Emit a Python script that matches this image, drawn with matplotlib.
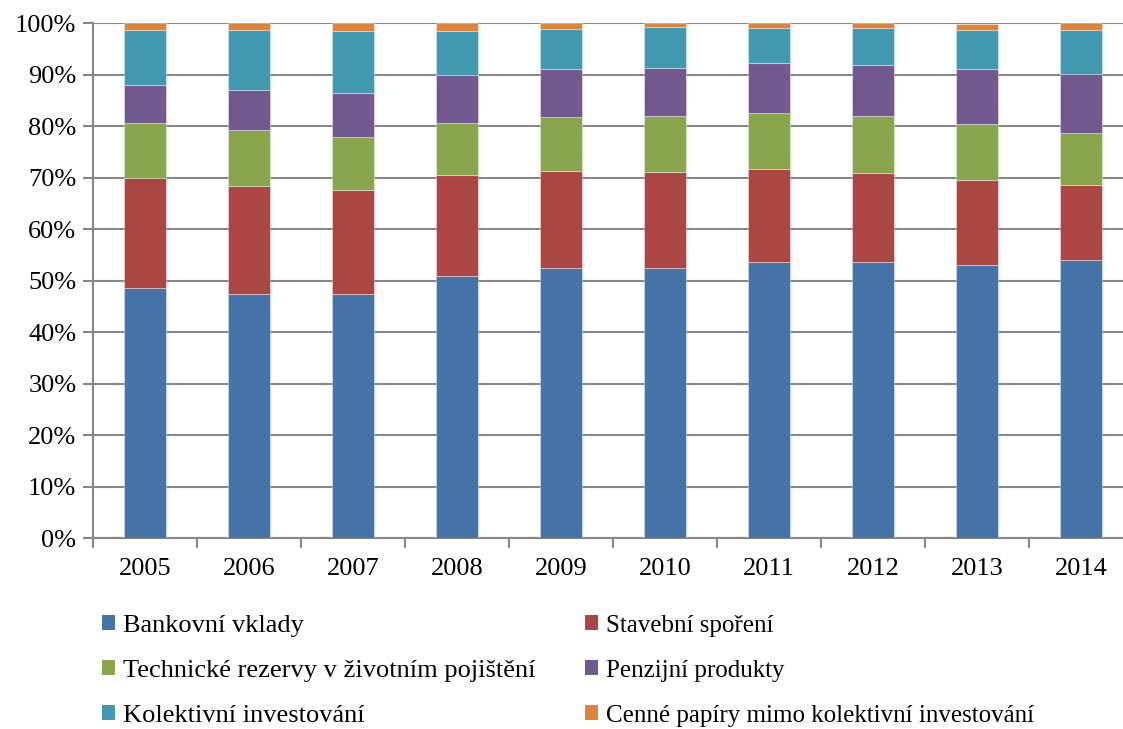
import matplotlib
matplotlib.use("Agg")
import matplotlib.pyplot as plt
from matplotlib.patches import Patch
from matplotlib.ticker import FuncFormatter
import numpy as np

years = ["2005", "2006", "2007", "2008", "2009", "2010", "2011", "2012", "2013", "2014"]

series_names = [
    "Bankovní vklady",
    "Stavební spoření",
    "Technické rezervy v životním pojištění",
    "Penzijní produkty",
    "Kolektivní investování",
    "Cenné papíry mimo kolektivní investování",
]

bankovni_vklady = [48.6, 47.5, 47.5, 51.0, 52.4, 52.5, 53.6, 53.6, 53.1, 54.0]
stavebni_sporeni = [21.4, 21.0, 20.2, 19.6, 19.0, 18.7, 18.2, 17.4, 16.5, 14.7]
technicke_rezervy = [10.7, 10.7, 10.3, 10.1, 10.4, 10.8, 10.7, 11.1, 10.8, 10.1]
penzijni_produkty = [7.3, 7.9, 8.5, 9.2, 9.3, 9.3, 9.7, 9.9, 10.8, 11.4]
kolektivni_investovani = [10.8, 11.6, 12.1, 8.7, 7.8, 7.9, 6.8, 7.0, 7.5, 8.5]
cenne_papiry = [1.2, 1.3, 1.4, 1.4, 1.1, 0.8, 1.0, 1.0, 1.2, 1.3]

colors = ["#4572A7", "#AA4643", "#89A54E", "#71588F", "#4198AF", "#DB843D"]

plt.rcParams["font.family"] = ["Liberation Serif", "DejaVu Serif"]

fig = plt.figure(figsize=(11.23, 7.29), dpi=100)
ax = fig.add_axes([0.0828, 0.2616, 0.9261, 0.7064])

data = [bankovni_vklady, stavebni_sporeni, technicke_rezervy,
        penzijni_produkty, kolektivni_investovani, cenne_papiry]
x = np.arange(len(years))
bottom = np.zeros(len(years))
for vals, col in zip(data, colors):
    vals = np.array(vals, dtype=float)
    ax.bar(x, vals, width=0.395, bottom=bottom, color=col,
           edgecolor=(1, 1, 1, 0.35), linewidth=0.8, zorder=3)
    bottom += vals

grid_col = "#878787"
ax.set_xlim(-0.5, len(years) - 0.5)
ax.set_ylim(0, 100)
ax.set_yticks(np.arange(0, 101, 10))
ax.yaxis.set_major_formatter(FuncFormatter(lambda v, p: f"{int(v)}%"))
ax.set_xticks(np.arange(-0.5, len(years), 1.0))
ax.set_xticklabels([])
ax.set_xticks(x, minor=True)
ax.set_xticklabels(years, minor=True)
ax.tick_params(axis="x", which="minor", length=0, pad=14, labelsize=19)
ax.tick_params(axis="x", which="major", length=7, width=1.5, color=grid_col)
ax.tick_params(axis="y", length=7, width=1.5, color=grid_col, labelsize=19, pad=5)
ax.grid(axis="y", color=grid_col, linewidth=1.5, zorder=0)
for s in ["top", "right"]:
    ax.spines[s].set_visible(False)
for s in ["left", "bottom"]:
    ax.spines[s].set_color(grid_col)
    ax.spines[s].set_linewidth(1.5)

# legend laid out row by row: two entries per row
order = [0, 2, 4, 1, 3, 5]
handles = [Patch(facecolor=colors[i], edgecolor="none") for i in order]
labels = [series_names[i] for i in order]
leg = fig.legend(handles, labels, loc="upper left",
                 bbox_to_anchor=(0.0905, 0.157), ncol=2, frameon=False,
                 fontsize=19, handlelength=0.52, handleheight=0.52,
                 handletextpad=0.3, columnspacing=1.85, labelspacing=0.88,
                 borderaxespad=0, borderpad=0)
for t in leg.get_texts()[3:]:
    t.set_fontsize(18)

fig.savefig("out.png", dpi=100)
